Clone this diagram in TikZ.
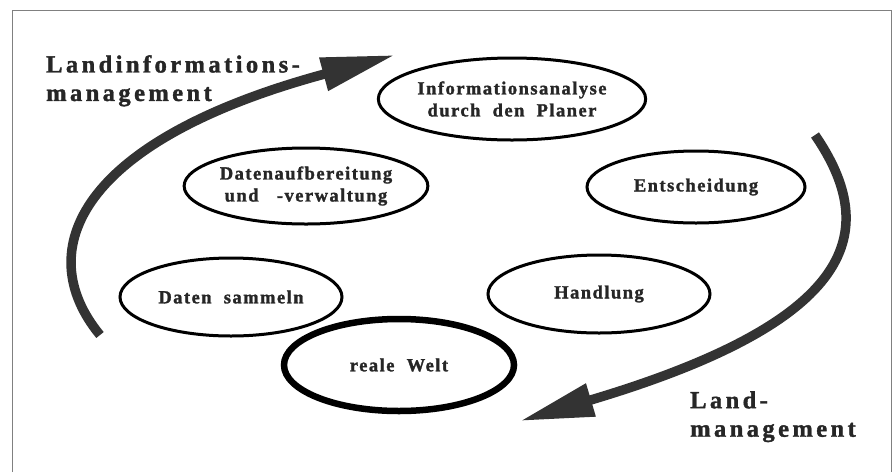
\documentclass[tikz,border=0pt]{standalone}
\usepackage{fontspec}
\setmainfont{Liberation Serif}[LetterSpace=8, BoldFeatures={FakeBold=1.5}]
\newfontfamily\titlefont{Liberation Serif}[LetterSpace=14, BoldFeatures={FakeBold=1.5}]
\usetikzlibrary{shapes.geometric,arrows.meta}

\begin{document}
\begin{tikzpicture}[x=1pt, y=-1pt,
    phase/.style={ellipse, draw, line width=3pt, align=center, inner sep=0pt,
        text=black!85, font=\fontsize{18.5}{22}\selectfont\bfseries},
    cycle/.style={line width=9.5pt, black!80, -{Triangle[length=74pt,width=32pt]}},
    heading/.style={anchor=north west, align=left, inner sep=0pt, text=black!85,
        font=\fontsize{24.5}{28.5}\selectfont\titlefont\bfseries}]
    \useasboundingbox (0,0) rectangle (893,472);
    \draw [gray, line width=1pt] (12,472) -- (12,10) -- (891,10) -- (891,472);

    % the cycle
    \node [phase, minimum width=250pt, minimum height=82pt] (info) at (512,99)
        {Informationsanalyse\\durch\ \ den\ \ Planer};
    \node [phase, minimum width=242pt, minimum height=76pt] (aufb) at (306,186)
        {Datenaufbereitung\\und\ \ \ -verwaltung};
    \node [phase, minimum width=218pt, minimum height=72pt] (entsch) at (696,187) {Entscheidung};
    \node [phase, minimum width=222pt, minimum height=78pt] (sammeln) at (231,297) {Daten\ \ sammeln};
    \node [phase, minimum width=222pt, minimum height=78pt] (handl) at (599,294) {Handlung};
    \node [phase, line width=6.5pt, minimum width=230pt, minimum height=92pt] (welt) at (399,365)
        {reale\ \ Welt};

    % the two arrows
    \coordinate (li0) at (100,335);
    \coordinate (li1) at (395,55);
    \coordinate (re0) at (815,135);
    \coordinate (re1) at (520,421);
    \draw [cycle] (li0) .. controls (30,250) and (80,140) .. (li1);
    \draw [cycle] (re0) .. controls (880,230) and (860,320) .. (re1);

    \node [heading] (lim) at (46,55) {Landinformations-\\management};
    \node [heading] (lm) at (690,391) {Land-\\management};
\end{tikzpicture}
\end{document}
